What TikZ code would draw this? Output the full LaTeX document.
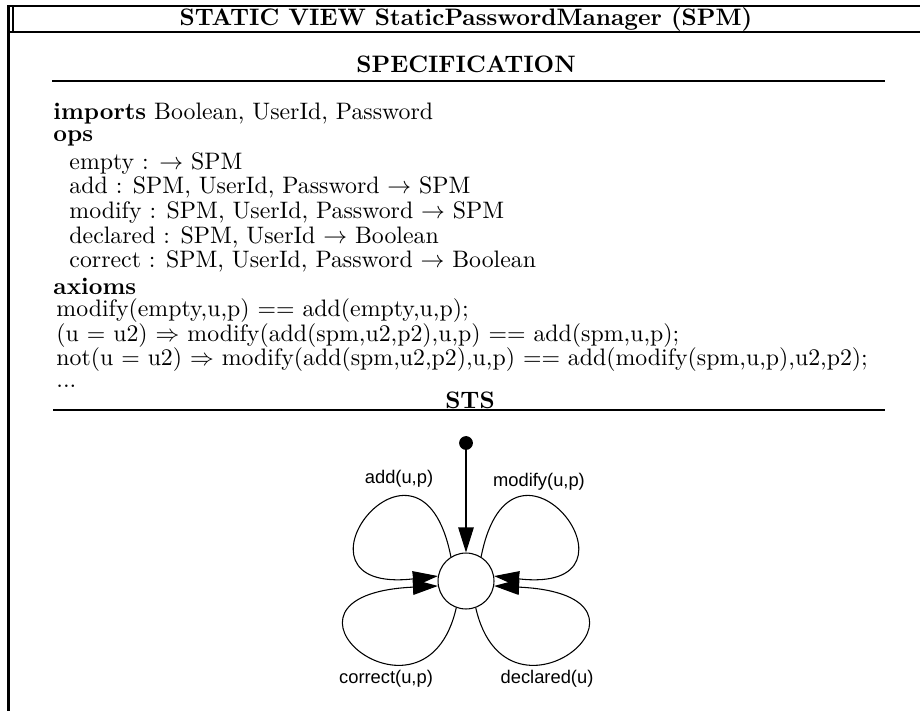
\documentclass[tikz,border=0pt]{standalone}
\usepackage{fontspec}
\newfontfamily\helv{Liberation Sans}
\usetikzlibrary{arrows.meta}

\tikzset{
  txt/.style={anchor=west, inner sep=0pt},
  hdr/.style={inner sep=0pt, font=\bfseries},
  lbl/.style={inner sep=0pt, font=\helv\fontsize{7.7}{9}\selectfont},
  petal/.style={line width=0.45pt, -{Triangle[length=10.5pt,width=6.5pt]}},
  rule/.style={line width=1pt},
}

\begin{document}
\begin{tikzpicture}[x=0.42pt,y=-0.42pt]
		\useasboundingbox (0,0) rectangle (920,711);
		
		\draw[rule] (8,6) -- (920,6);
		\draw[rule] (8,32) -- (920,32);
		\draw[line width=0.5pt] (13,6) -- (13,32);
		\draw[line width=1.3pt] (8.5,5.5) -- (8.5,711);
		\node[hdr] (t) at (466,20) {STATIC VIEW StaticPasswordManager (SPM)};
		
		\node[hdr] (s) at (466,64) {SPECIFICATION};
		\draw[rule] (52,81) -- (885,81);
		\node[txt] (l1) at (53,114) {\textbf{imports} Boolean, UserId, Password};
		\node[txt] (l2) at (53,138.6) {\textbf{ops}};
		\node[txt] (l3) at (69,163.2) {empty : $\rightarrow$ SPM};
		\node[txt] (l4) at (69,187.8) {add : SPM, UserId, Password $\rightarrow$ SPM};
		\node[txt] (l5) at (69,212.4) {modify : SPM, UserId, Password $\rightarrow$ SPM};
		\node[txt] (l6) at (69,237) {declared : SPM, UserId $\rightarrow$ Boolean};
		\node[txt] (l7) at (69,261.6) {correct : SPM, UserId, Password $\rightarrow$ Boolean};
		\node[txt] (l8) at (53,286.2) {\textbf{axioms}};
		\node[txt] (l9) at (56,310.8) {modify(empty,u,p) $==$ add(empty,u,p);};
		\node[txt] (l10) at (56,335.4) {(u $=$ u2) $\Rightarrow$ modify(add(spm,u2,p2),u,p) $==$ add(spm,u,p);};
		\node[txt] (l11) at (56,360) {not(u $=$ u2) $\Rightarrow$ modify(add(spm,u2,p2),u,p) $==$ add(modify(spm,u,p),u2,p2);};
		\node[txt] (l12) at (56,386) {...};
		
		\node[hdr] (sts) at (470,400) {STS};
		\draw[rule] (53,410) -- (885,410);
		
		\node[circle, fill, inner sep=0pt, minimum size=5.8pt] (0) at (466,443) {};
		\node[circle, draw, line width=0.45pt, inner sep=0pt, minimum size=23.5pt] (1) at (466,581) {};
		\draw[petal] (0) -- (1);
		
		\draw[petal] (1.122) .. controls (420,400) and (272,595) .. (1.170);
		\draw[petal] (1.58) .. controls (512,400) and (660,595) .. (1.10);
		\draw[petal] (1.250) .. controls (425,745) and (245,595) .. (1.190);
		\draw[petal] (1.290) .. controls (507,745) and (687,595) .. (1.350);
		
		\node[lbl] (a) at (399,479) {add(u,p)};
		\node[lbl] (m) at (539,482) {modify(u,p)};
		\node[lbl] (c) at (386,679) {correct(u,p)};
		\node[lbl] (d) at (547,679) {declared(u)};
		
\end{tikzpicture}
\end{document}
